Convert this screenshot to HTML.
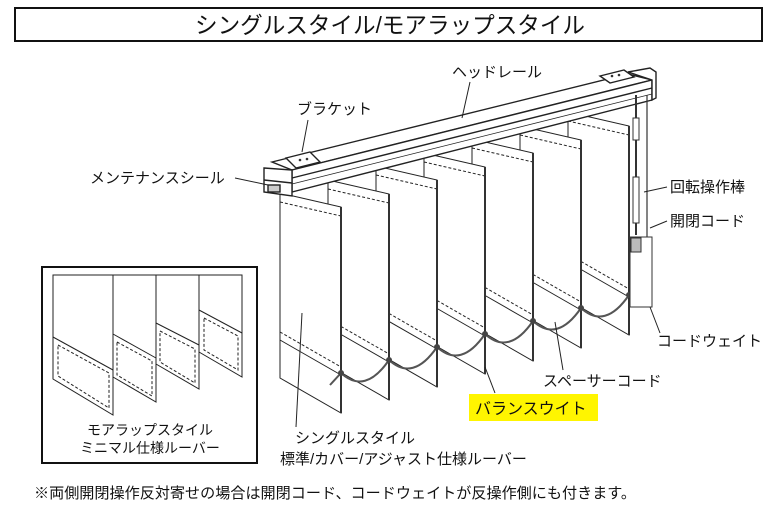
<!DOCTYPE html>
<html><head><meta charset="utf-8"><style>
html,body{margin:0;padding:0;background:#fff;}
svg{display:block;}
text{font-family:"Liberation Sans","Noto Sans CJK JP",sans-serif;fill:#111;}
</style></head><body>
<svg width="780" height="520" viewBox="0 0 780 520" xmlns="http://www.w3.org/2000/svg">
<rect x="15" y="8" width="747" height="33" fill="#fff" stroke="#111" stroke-width="2"/>
<text x="390" y="33" font-size="23" text-anchor="middle" textLength="390" lengthAdjust="spacingAndGlyphs">シングルスタイル/モアラップスタイル</text>

<g stroke="#222" stroke-width="1" fill="#fff">
<g>
<polygon points="568,112 629,126 629,335 568,300"/>
<line x1="568" y1="121" x2="629" y2="135" stroke-dasharray="3,2"/>
<line x1="568" y1="262" x2="629" y2="297"/><line x1="568" y1="254" x2="629" y2="289" stroke-dasharray="3,2"/>
</g>
<g>
<polygon points="520,126 581,140 581,348 520,313"/>
<line x1="520" y1="135" x2="581" y2="149" stroke-dasharray="3,2"/>
<line x1="520" y1="275" x2="581" y2="310"/><line x1="520" y1="267" x2="581" y2="302" stroke-dasharray="3,2"/>
</g>
<g>
<polygon points="472,139 533,153 533,361 472,326"/>
<line x1="472" y1="148" x2="533" y2="162" stroke-dasharray="3,2"/>
<line x1="472" y1="288" x2="533" y2="323"/><line x1="472" y1="280" x2="533" y2="315" stroke-dasharray="3,2"/>
</g>
<g>
<polygon points="424,153 485,167 485,374 424,339"/>
<line x1="424" y1="162" x2="485" y2="176" stroke-dasharray="3,2"/>
<line x1="424" y1="301" x2="485" y2="336"/><line x1="424" y1="293" x2="485" y2="328" stroke-dasharray="3,2"/>
</g>
<g>
<polygon points="376,166 437,180 437,387 376,352"/>
<line x1="376" y1="175" x2="437" y2="189" stroke-dasharray="3,2"/>
<line x1="376" y1="314" x2="437" y2="349"/><line x1="376" y1="306" x2="437" y2="341" stroke-dasharray="3,2"/>
</g>
<g>
<polygon points="328,180 389,194 389,400 328,365"/>
<line x1="328" y1="189" x2="389" y2="203" stroke-dasharray="3,2"/>
<line x1="328" y1="327" x2="389" y2="362"/><line x1="328" y1="319" x2="389" y2="354" stroke-dasharray="3,2"/>
</g>
<g>
<polygon points="280,193 341,207 341,413 280,378"/>
<line x1="280" y1="202" x2="341" y2="216" stroke-dasharray="3,2"/>
<line x1="280" y1="340" x2="341" y2="375"/><line x1="280" y1="332" x2="341" y2="367" stroke-dasharray="3,2"/>
</g>
</g>
<g stroke="#333" stroke-width="2">
<line x1="341" y1="207" x2="341" y2="413"/><line x1="389" y1="194" x2="389" y2="400"/>
<line x1="437" y1="180" x2="437" y2="387"/><line x1="485" y1="167" x2="485" y2="374"/>
<line x1="533" y1="153" x2="533" y2="361"/><line x1="581" y1="140" x2="581" y2="348"/>
<line x1="629" y1="126" x2="629" y2="335"/>
</g>
<path d="M330,385 L341,373 Q365,395 389,360 Q413,382 437,347 Q461,369 485,334 Q509,356 533,321 Q557,343 581,308 Q605,330 629,295 L638,298" fill="none" stroke="#555" stroke-width="2"/>
<g fill="#444"><circle cx="341" cy="373" r="3"/><circle cx="389" cy="360" r="3"/><circle cx="437" cy="347" r="3"/><circle cx="485" cy="334" r="3"/><circle cx="533" cy="321" r="3"/><circle cx="581" cy="308" r="3"/><circle cx="629" cy="295" r="3"/></g>

<g stroke="#222" stroke-width="1.4" fill="#fff">
<polygon points="272,162 628,74 652,80 292,170"/>
<polygon points="292,170 652,80 652,100 292,192"/>
<line x1="292" y1="178" x2="652" y2="88"/>
<line x1="292" y1="184" x2="652" y2="94" stroke-width="0.8"/>
<polygon points="264,168 292,170 292,196 264,192"/>
<line x1="264" y1="180" x2="292" y2="183"/>
<rect x="268" y="185" width="12" height="7" fill="#ccc"/>
<polygon points="286,158 310,152 320,162 296,168"/>
<polygon points="600,76 624,70 634,77 610,83"/>
<polygon points="628,72 650,68 656,72 656,98 652,100 652,80"/>
</g>
<g fill="#333"><circle cx="300" cy="160" r="1.3"/><circle cx="307" cy="159" r="1.3"/><circle cx="612" cy="76" r="1.3"/><circle cx="619" cy="75" r="1.3"/></g>
<g stroke="#333" fill="#fff">
<line x1="636" y1="95" x2="636" y2="235" stroke-width="2"/>
<rect x="633" y="118" width="6" height="22"/>
<rect x="633" y="177" width="6" height="46"/>
<line x1="647" y1="95" x2="647" y2="237" stroke-width="1.2"/>
<rect x="630" y="237" width="22" height="70"/>
<rect x="631" y="238" width="10" height="14" fill="#bbb"/>
</g>

<g stroke="#222" stroke-width="1" fill="none">
<line x1="470" y1="82" x2="462" y2="118"/>
<line x1="308" y1="120" x2="302" y2="152"/>
<line x1="235" y1="178" x2="268" y2="185"/>
<line x1="644" y1="192" x2="667" y2="187"/>
<line x1="650" y1="228" x2="667" y2="221"/>
<line x1="650" y1="307" x2="660" y2="333"/>
<line x1="563" y1="370" x2="555" y2="322"/>
<line x1="495" y1="393" x2="485" y2="367"/>
<line x1="296" y1="427" x2="302" y2="313"/>
</g>
<g font-size="15">
<text x="452" y="77">ヘッドレール</text>
<text x="297" y="114">ブラケット</text>
<text x="90" y="183">メンテナンスシール</text>
<text x="670" y="192">回転操作棒</text>
<text x="670" y="226">開閉コード</text>
<text x="657" y="346">コードウェイト</text>
<text x="543" y="386">スペーサーコード</text>
<rect x="469" y="394" width="129" height="27" fill="#fff500"/>
<text x="475" y="414" font-size="16">バランスウイト</text>
<text x="295" y="443">シングルスタイル</text>
<text x="280" y="464">標準/カバー/アジャスト仕様ルーバー</text>
<text x="34" y="498" textLength="602" lengthAdjust="spacingAndGlyphs">※両側開閉操作反対寄せの場合は開閉コード、コードウェイトが反操作側にも付きます。</text>
</g>

<rect x="42" y="267" width="215" height="196" fill="#fff" stroke="#111" stroke-width="2"/>
<g stroke="#222" stroke-width="1" fill="#fff">
<g><polygon points="199,275 242,275 242,377 199,352"/><line x1="199" y1="310" x2="242" y2="333"/><polyline points="204,318 238,336 238,370 204,350 204,318" fill="none" stroke-dasharray="3,2"/></g>
<g><polygon points="156,275 199,275 199,389 156,364"/><line x1="156" y1="323" x2="199" y2="345"/><polyline points="160,331 195,349 195,383 160,362 160,331" fill="none" stroke-dasharray="3,2"/></g>
<g><polygon points="113,275 156,275 156,402 113,377"/><line x1="113" y1="334" x2="156" y2="358"/><polyline points="117,342 152,361 152,396 117,375 117,342" fill="none" stroke-dasharray="3,2"/></g>
<g><polygon points="53,275 113,275 113,415 53,379"/><line x1="53" y1="337" x2="113" y2="370"/><polyline points="58,345 109,373 109,408 58,376 58,345" fill="none" stroke-dasharray="3,2"/></g>
</g>
<text x="150" y="435" font-size="14" text-anchor="middle">モアラップスタイル</text>
<text x="150" y="453" font-size="14" text-anchor="middle">ミニマル仕様ルーバー</text>
</svg>
</body></html>
